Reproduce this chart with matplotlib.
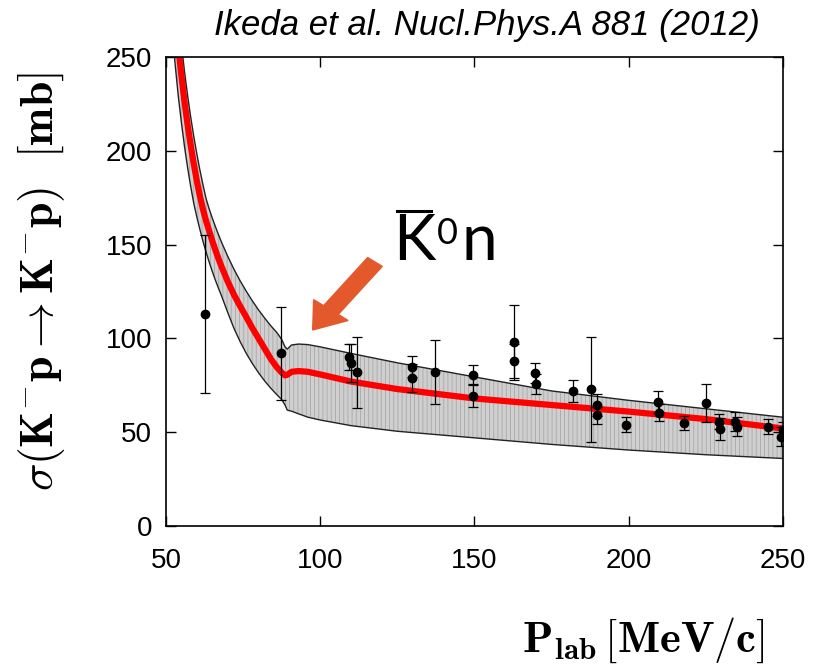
import numpy as np
import matplotlib.pyplot as plt
from matplotlib.patches import FancyArrow
from matplotlib.lines import Line2D

# experimental data (P_lab [MeV/c], sigma [mb], error)
p_lab = [62.6, 87.2, 109.3, 109.9, 112.0, 129.6, 129.8, 137.2, 149.4, 149.6,
         162.7, 162.8, 169.6, 169.8, 182.0, 187.8, 189.6, 189.8, 199.0, 209.6,
         209.8, 218.0, 225.2, 229.4, 229.6, 234.5, 235.0, 245.3, 249.3, 250.0]
sigma = [113, 92, 90, 87, 82, 85, 79, 82, 80.5, 69.5,
         98, 88, 81.5, 75.7, 72, 73, 64.5, 59, 54, 66,
         60.4, 55, 65.5, 55.6, 51.7, 55.6, 53, 53, 47.6, 51.2]
sigma_err = [42, 25, 7, 10, 19, 5.5, 7.5, 17, 5.5, 6,
             20, 9, 5.5, 5.3, 6, 28, 6, 4.5, 4, 6,
             4.5, 3.7, 10, 4, 6, 5, 5, 4, 5, 4.5]

# model: central curve and uncertainty band on a common P_lab grid
model_x = [50, 52, 53, 54, 55, 56, 57, 58, 59, 60, 61, 62, 63, 64, 65, 66, 67,
           68, 70, 72, 74, 76, 78, 80, 82, 84, 86, 87.5, 88.6, 89.3, 90.7, 93,
           96, 100, 110, 125, 150, 175, 200, 225, 250]
model_y = [345, 293.6, 273.3, 255.6, 240, 226.3, 214, 203, 193.1, 184, 175.8,
           168.8, 162.6, 157.3, 152, 147.2, 142.6, 138.3, 130.4, 123.4, 117.3,
           111.5, 105.5, 100, 94.5, 89, 84.5, 81.8, 80.3, 80.6, 82.2, 82.6,
           82.2, 80.8, 77, 73, 68, 64.5, 61, 57, 52]
band_hi = [363, 311.5, 290.8, 272.6, 256.6, 242.3, 229.6, 218.1, 207.8, 198.3,
           189.7, 181.8, 174.5, 169, 164.2, 159.7, 155.4, 151.3, 143.8, 137,
           130.8, 125.2, 120, 115.2, 110.8, 106.7, 103, 99.5, 95.5, 94.3, 96.5,
           97, 96.7, 95.5, 92, 87, 79.5, 72, 67, 62.5, 58]
band_lo = [312, 264, 245.5, 229, 215, 202.3, 191.1, 181.1, 172, 164.7, 158,
           151.7, 146, 140.7, 135.7, 131.1, 126.8, 122.7, 113.9, 105.5, 98.4,
           92.1, 86.6, 81.7, 77.3, 73.4, 69.9, 67.4, 64.5, 61.8, 61.2, 59.8, 58,
           56.5, 53.5, 50.5, 47, 43.5, 40.5, 38, 36]

plt.rcParams['mathtext.fontset'] = 'cm'
plt.rcParams['hatch.linewidth'] = 0.6
narrow = ['Liberation Sans Narrow', 'Liberation Sans', 'DejaVu Sans']
thin = ['Lato', 'DejaVu Sans']

fig = plt.figure(figsize=(8.25, 6.7), dpi=100)
ax = fig.add_axes([0.2012, 0.2149, 0.7478, 0.7])

ax.fill_between(model_x, band_lo, band_hi, facecolor='#cfcfcf', edgecolor='none')
ax.fill_between(model_x, band_lo, band_hi, facecolor='none', edgecolor='#a8a8a8',
                hatch='||||', linewidth=0)
ax.plot(model_x, band_hi, color='#222222', lw=1.0)
ax.plot(model_x, band_lo, color='#222222', lw=1.0)
ax.plot(model_x, model_y, color='#ff0000', lw=4.5, solid_capstyle='round')

ax.errorbar(p_lab, sigma, yerr=sigma_err, fmt='o', color='black', ms=6,
            elinewidth=0.9, capsize=3.5, capthick=0.9)

ax.set_xlim(50, 250)
ax.set_ylim(0, 250)
ax.set_xticks([50, 100, 150, 200, 250])
ax.set_yticks([0, 50, 100, 150, 200, 250])
ax.tick_params(direction='in', length=7, width=1, top=True, right=True, pad=10)
for lab in ax.get_xticklabels() + ax.get_yticklabels():
    lab.set_family(narrow)
    lab.set_fontsize(20)
ax.tick_params(axis='x', pad=16)
for s in ax.spines.values():
    s.set_linewidth(1.2)

fig.text(0.05, 0.58, r'$\sigma(\mathbf{K^{-}p\rightarrow K^{-}p})\ \ [\mathbf{mb}]$',
         rotation=90, ha='center', va='center', fontsize=33)
fig.text(0.78, 0.045, r'$\mathbf{P_{lab}}\,[\mathbf{MeV/c}]$',
         ha='center', va='center', fontsize=32)
fig.text(0.59, 0.962, 'Ikeda et al. Nucl.Phys.A 881 (2012)', style='italic',
         family=narrow, fontsize=25, ha='center', va='center')

# K-bar^0 n label, built from pieces
r = fig.canvas.get_renderer()
inv = fig.transFigure.inverted()
tk = fig.text(0.4764, 0.612, 'K', fontsize=46, family=thin,
              va='baseline', ha='left')
bk = tk.get_window_extent(r)
x0, y_top = inv.transform((bk.x1 + 2, bk.y1 - 4))
t0 = fig.text(x0, y_top, '0', fontsize=26, family=thin,
              va='top', ha='left')
b0 = t0.get_window_extent(r)
xn, _ = inv.transform((b0.x1 + 3, 0))
fig.text(xn, 0.612, 'n', fontsize=46, family=thin,
         va='baseline', ha='left')
(ox0, oy), (ox1, _) = inv.transform([(bk.x0 + 4, bk.y1 + 2), (bk.x1 - 4, bk.y1 + 2)])
fig.add_artist(Line2D([ox0, ox1], [oy, oy], color='black', lw=2.2,
                      transform=fig.transFigure))

fig.patches.append(FancyArrow(0.4545, 0.609, -0.0755, -0.1015, width=0.022,
                              head_width=0.052, head_length=0.037,
                              length_includes_head=True, color='#e3592b',
                              transform=fig.transFigure, figure=fig))

fig.savefig('out.png', dpi=100)
